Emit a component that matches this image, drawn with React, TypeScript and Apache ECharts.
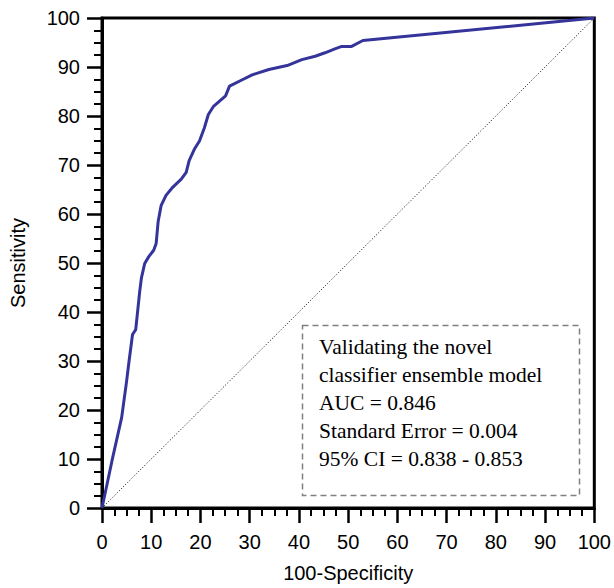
import React, { useEffect, useRef } from "react";
import * as echarts from "echarts";

const fpr = [0, 2, 4, 5, 5.5, 6.2, 6.85, 7.66, 8, 8.67, 9.5, 10.5, 11, 11.4, 12, 13, 14.4, 16.1, 17.1, 17.7, 18.75, 19.8, 20.8, 21.6, 22.6, 25.1, 25.9, 28.5, 30.5, 33.9, 37.6, 40.6, 43.3, 45.3, 47.3, 48.7, 50.7, 53, 100];
const tpr = [0, 9.5, 18.5, 25.9, 30, 35.4, 36.4, 44.2, 46.9, 49.9, 51.3, 52.6, 54, 58.4, 61.7, 63.8, 65.5, 67.1, 68.5, 70.9, 73.2, 74.9, 77.6, 80.3, 81.9, 84.1, 86.1, 87.4, 88.4, 89.5, 90.3, 91.5, 92.2, 92.9, 93.7, 94.2, 94.2, 95.4, 100];
const refX = [0, 100];
const refY = [0, 100];
const boxLines = [
  "Validating the novel",
  "classifier ensemble model",
  "AUC = 0.846",
  "Standard Error = 0.004",
  "95% CI = 0.838 - 0.853",
];

const SANS = '"Liberation Sans", Arial, Helvetica, sans-serif';
const SERIF = '"Liberation Serif", "Times New Roman", serif';

export default function App() {
  const ref = useRef<HTMLDivElement>(null);
  useEffect(() => {
    if (!ref.current) return;
    const chart = echarts.init(ref.current, null, { renderer: "svg" });
    const axisCommon = {
      type: "value" as const,
      min: 0,
      max: 100,
      interval: 10,
      axisLine: { show: true, lineStyle: { color: "#000", width: 3 } },
      axisTick: { show: true, inside: false, length: 15, lineStyle: { color: "#000", width: 2.5 } },
      minorTick: { show: true, splitNumber: 4, length: 8, lineStyle: { color: "#000", width: 2 } },
      splitLine: { show: false },
      minorSplitLine: { show: false },
      axisLabel: { color: "#000", fontSize: 20, fontFamily: SANS },
      nameTextStyle: { color: "#000", fontSize: 20, fontFamily: SANS },
      nameLocation: "middle" as const,
    };
    chart.setOption({
      animation: false,
      backgroundColor: "#fff",
      grid: {
        left: 102,
        top: 18,
        width: 496,
        height: 493,
        show: true,
        borderColor: "#000",
        borderWidth: 3,
        backgroundColor: "transparent",
      },
      xAxis: {
        ...axisCommon,
        name: "100-Specificity",
        nameGap: 55,
        axisLabel: { ...axisCommon.axisLabel, margin: 24 },
      },
      yAxis: {
        ...axisCommon,
        name: "Sensitivity",
        nameGap: 74,
        axisLabel: { ...axisCommon.axisLabel, margin: 22 },
      },
      series: [
        {
          type: "line",
          data: refX.map((x, i) => [x, refY[i]]),
          showSymbol: false,
          lineStyle: { color: "#000", width: 1, type: [1, 2] },
          silent: true,
        },
        {
          type: "line",
          data: fpr.map((x, i) => [x, tpr[i]]),
          showSymbol: false,
          smooth: false,
          lineStyle: { color: "#34349a", width: 3 },
          silent: true,
        },
      ],
      graphic: [
        {
          type: "rect",
          shape: { x: 302.5, y: 325.5, width: 277, height: 170 },
          style: { fill: "#fff", stroke: "#808080", lineWidth: 1.5, lineDash: [6, 4] },
          z: 100,
        },
        {
          type: "text",
          x: 319,
          y: 333,
          style: {
            text: boxLines.join("\n"),
            font: `21.5px ${SERIF}`,
            fill: "#000",
            lineHeight: 28,
            textVerticalAlign: "top",
          },
          z: 101,
        },
      ],
    });
    return () => chart.dispose();
  }, []);
  return (
    <div
      ref={ref}
      style={{ position: "fixed", left: 0, top: 0, width: 614, height: 588 }}
    />
  );
}
